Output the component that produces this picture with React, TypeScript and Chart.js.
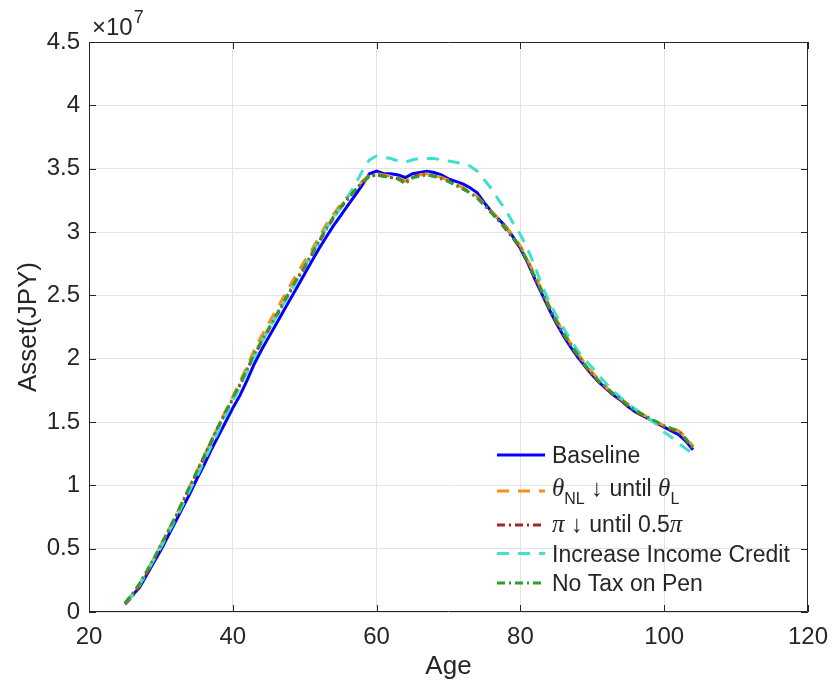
import React, { useEffect, useRef } from 'react';
import { Chart, registerables } from 'chart.js';

Chart.register(...registerables);

// ---------------- data (values in units of 1e7 JPY) ----------------
const ages = [
  25, 26, 27, 28, 29, 30, 31, 32, 33, 34, 35, 36, 37, 38, 39, 40, 41, 42, 43, 44,
  45, 46, 47, 48, 49, 50, 51, 52, 53, 54, 55, 56, 57, 58, 59, 60, 61, 62, 63, 64,
  65, 66, 67, 68, 69, 70, 71, 72, 73, 74, 75, 76, 77, 78, 79, 80, 81, 82, 83, 84,
  85, 86, 87, 88, 89, 90, 91, 92, 93, 94, 95, 96, 97, 98, 99, 100, 101, 102, 103, 104,
];

const baseline = [
  0.07, 0.13, 0.19, 0.29, 0.39, 0.49, 0.60, 0.71, 0.82, 0.93, 1.05, 1.16, 1.28, 1.39, 1.50, 1.61, 1.71, 1.83, 1.96, 2.07,
  2.17, 2.27, 2.37, 2.47, 2.57, 2.67, 2.77, 2.87, 2.96, 3.05, 3.13, 3.21, 3.29, 3.37, 3.46, 3.48, 3.46, 3.46, 3.45, 3.43,
  3.46, 3.47, 3.48, 3.47, 3.45, 3.42, 3.40, 3.38, 3.35, 3.31, 3.23, 3.16, 3.10, 3.04, 2.96, 2.87, 2.76, 2.63, 2.51, 2.39,
  2.28, 2.18, 2.09, 2.01, 1.94, 1.87, 1.81, 1.76, 1.71, 1.67, 1.62, 1.58, 1.55, 1.52, 1.49, 1.46, 1.43, 1.40, 1.35, 1.28,
];

const thetaDown = [
  0.07, 0.14, 0.22, 0.32, 0.42, 0.53, 0.64, 0.75, 0.87, 0.99, 1.11, 1.23, 1.35, 1.47, 1.59, 1.70, 1.82, 1.94, 2.07, 2.18,
  2.28, 2.38, 2.48, 2.58, 2.68, 2.77, 2.86, 2.96, 3.06, 3.14, 3.22, 3.28, 3.34, 3.40, 3.45, 3.46, 3.45, 3.44, 3.43, 3.40,
  3.44, 3.45, 3.46, 3.45, 3.43, 3.41, 3.38, 3.35, 3.32, 3.28, 3.22, 3.16, 3.10, 3.04, 2.97, 2.89, 2.78, 2.66, 2.54, 2.42,
  2.31, 2.21, 2.12, 2.04, 1.96, 1.89, 1.83, 1.77, 1.72, 1.68, 1.64, 1.60, 1.56, 1.53, 1.50, 1.47, 1.45, 1.43, 1.38, 1.31,
];

const piDown = [
  0.06, 0.12, 0.20, 0.30, 0.41, 0.52, 0.63, 0.74, 0.86, 0.98, 1.10, 1.22, 1.34, 1.46, 1.57, 1.68, 1.79, 1.91, 2.03, 2.13,
  2.23, 2.33, 2.43, 2.53, 2.63, 2.72, 2.82, 2.92, 3.02, 3.11, 3.19, 3.26, 3.33, 3.39, 3.44, 3.45, 3.44, 3.43, 3.42, 3.39,
  3.43, 3.45, 3.45, 3.44, 3.42, 3.40, 3.37, 3.34, 3.31, 3.27, 3.21, 3.15, 3.09, 3.02, 2.95, 2.87, 2.76, 2.64, 2.52, 2.40,
  2.29, 2.19, 2.10, 2.02, 1.94, 1.87, 1.81, 1.76, 1.71, 1.67, 1.62, 1.58, 1.55, 1.52, 1.49, 1.46, 1.44, 1.42, 1.36, 1.29,
];

const incomeCredit = [
  0.07, 0.13, 0.21, 0.31, 0.41, 0.51, 0.62, 0.73, 0.84, 0.96, 1.07, 1.19, 1.31, 1.43, 1.55, 1.66, 1.78, 1.90, 2.02, 2.13,
  2.23, 2.33, 2.43, 2.53, 2.63, 2.73, 2.83, 2.93, 3.03, 3.11, 3.19, 3.28, 3.37, 3.48, 3.57, 3.60, 3.59, 3.58, 3.56, 3.55,
  3.57, 3.58, 3.58, 3.58, 3.57, 3.56, 3.55, 3.54, 3.52, 3.48, 3.41, 3.34, 3.25, 3.17, 3.07, 2.98, 2.87, 2.73, 2.58, 2.45,
  2.34, 2.24, 2.15, 2.06, 1.99, 1.93, 1.86, 1.80, 1.74, 1.69, 1.64, 1.60, 1.56, 1.52, 1.48, 1.42, 1.38, 1.33, 1.29, 1.25,
];

const noTaxPen = [
  0.07, 0.14, 0.22, 0.32, 0.42, 0.53, 0.64, 0.75, 0.87, 0.99, 1.11, 1.23, 1.35, 1.47, 1.58, 1.69, 1.80, 1.92, 2.04, 2.14,
  2.24, 2.34, 2.44, 2.54, 2.64, 2.73, 2.83, 2.93, 3.03, 3.12, 3.20, 3.27, 3.33, 3.39, 3.44, 3.45, 3.44, 3.43, 3.42, 3.38,
  3.43, 3.44, 3.45, 3.44, 3.42, 3.40, 3.37, 3.34, 3.31, 3.27, 3.21, 3.15, 3.09, 3.03, 2.96, 2.88, 2.77, 2.65, 2.53, 2.41,
  2.30, 2.20, 2.11, 2.03, 1.95, 1.88, 1.82, 1.77, 1.72, 1.68, 1.63, 1.59, 1.56, 1.53, 1.50, 1.47, 1.45, 1.43, 1.37, 1.30,
];

const xTickValues = [20, 40, 60, 80, 100, 120];
const xTickLabels = ['20', '40', '60', '80', '100', '120'];
const yTickValues = [0, 0.5, 1, 1.5, 2, 2.5, 3, 3.5, 4, 4.5];
const yTickLabels = ['0', '0.5', '1', '1.5', '2', '2.5', '3', '3.5', '4', '4.5'];

const xTitle = 'Age';
const yTitle = 'Asset(JPY)';
const exponentBase = '\u00D710';
const exponentPower = '7';

// ---------------- styles ----------------
const SANS = '"Liberation Sans", Arial, Helvetica, sans-serif';
const SERIF = '"Liberation Serif", "DejaVu Serif", serif';
const TEXT = '#262626';
const GRID = '#E3E3E3';

const COLORS = {
  baseline: '#0000FF',
  theta: '#FF8A1E',
  pi: '#B22222',
  credit: '#40E0D0',
  notax: '#2CA02C',
};

const DASH_LONG = [12, 9];
const DASH_DOT = [8, 4, 2, 4];

type Run = { t: string; f: string; dy?: number };

const legendRows: { color: string; dash: number[]; runs: Run[] }[] = [
  { color: COLORS.baseline, dash: [], runs: [{ t: 'Baseline', f: `23px ${SANS}` }] },
  {
    color: COLORS.theta,
    dash: DASH_LONG,
    runs: [
      { t: '\u03B8', f: `italic 25px ${SERIF}` },
      { t: 'NL', f: `16px ${SANS}`, dy: 8 },
      { t: ' ', f: `23px ${SANS}` },
      { t: '\u2193', f: `24px ${SERIF}` },
      { t: ' until ', f: `23px ${SANS}` },
      { t: '\u03B8', f: `italic 25px ${SERIF}` },
      { t: 'L', f: `16px ${SANS}`, dy: 8 },
    ],
  },
  {
    color: COLORS.pi,
    dash: DASH_DOT,
    runs: [
      { t: '\u03C0', f: `italic 25px ${SERIF}` },
      { t: ' ', f: `23px ${SANS}` },
      { t: '\u2193', f: `24px ${SERIF}` },
      { t: ' until 0.5', f: `23px ${SANS}` },
      { t: '\u03C0', f: `italic 25px ${SERIF}` },
    ],
  },
  { color: COLORS.credit, dash: DASH_LONG, runs: [{ t: 'Increase Income Credit', f: `23px ${SANS}` }] },
  { color: COLORS.notax, dash: DASH_DOT, runs: [{ t: 'No Tax on Pen', f: `23px ${SANS}` }] },
];

const legendLineY = [455, 491, 525, 553.5, 583];
const legendBaseY = [463, 495.5, 532, 561.5, 591];

const decorPlugin = {
  id: 'matlabDecor',
  afterDraw(chart: any) {
    const { ctx, chartArea, scales } = chart;
    const { left, right, top, bottom } = chartArea;
    const xs = scales.x;
    const ys = scales.y;
    ctx.save();

    // box
    ctx.strokeStyle = TEXT;
    ctx.lineWidth = 1;
    ctx.beginPath();
    ctx.rect(Math.round(left) + 0.5, Math.round(top) + 0.5, Math.round(right) - Math.round(left) - 1, Math.round(bottom) - Math.round(top) - 1);
    ctx.stroke();

    // inward ticks
    const tl = 7;
    ctx.beginPath();
    xTickValues.forEach((v) => {
      const px = Math.round(xs.getPixelForValue(v)) + 0.5;
      ctx.moveTo(px, bottom);
      ctx.lineTo(px, bottom - tl);
      ctx.moveTo(px, top);
      ctx.lineTo(px, top + tl);
    });
    yTickValues.forEach((v) => {
      const py = Math.round(ys.getPixelForValue(v)) + 0.5;
      ctx.moveTo(left, py);
      ctx.lineTo(left + tl, py);
      ctx.moveTo(right, py);
      ctx.lineTo(right - tl, py);
    });
    ctx.stroke();

    // exponent label
    ctx.fillStyle = TEXT;
    ctx.textBaseline = 'alphabetic';
    ctx.textAlign = 'left';
    ctx.font = `24px ${SANS}`;
    ctx.fillText(exponentBase, 92, 35);
    const w = ctx.measureText(exponentBase).width;
    ctx.font = `18px ${SANS}`;
    ctx.fillText(exponentPower, 92 + w + 1, 23);

    // axis titles
    ctx.font = `26px ${SANS}`;
    ctx.textAlign = 'center';
    ctx.textBaseline = 'middle';
    ctx.fillText(xTitle, (left + right) / 2, 667);
    ctx.save();
    ctx.translate(29, (top + bottom) / 2);
    ctx.rotate(-Math.PI / 2);
    ctx.fillText(yTitle, 0, 0);
    ctx.restore();

    // legend
    ctx.textAlign = 'left';
    ctx.textBaseline = 'alphabetic';
    legendRows.forEach((row, i) => {
      const ly = legendLineY[i];
      ctx.save();
      ctx.strokeStyle = row.color;
      ctx.lineWidth = 3;
      ctx.setLineDash(row.dash);
      ctx.beginPath();
      ctx.moveTo(497, ly);
      ctx.lineTo(545, ly);
      ctx.stroke();
      ctx.restore();
      let x = 552;
      row.runs.forEach((r) => {
        ctx.font = r.f;
        ctx.fillStyle = TEXT;
        ctx.fillText(r.t, x, legendBaseY[i] + (r.dy || 0));
        x += ctx.measureText(r.t).width;
      });
    });

    ctx.restore();
  },
};

function mk(label: string, data: number[], color: string, dash: number[], order: number) {
  return {
    label,
    data: ages.map((a, i) => ({ x: a, y: data[i] })),
    borderColor: color,
    backgroundColor: color,
    borderWidth: 3,
    borderDash: dash,
    pointRadius: 0,
    tension: 0,
    fill: false,
    order,
  };
}

export default function App() {
  const ref = useRef<HTMLCanvasElement | null>(null);
  useEffect(() => {
    if (!ref.current) return;
    const chart = new Chart(ref.current, {
      type: 'line',
      data: {
        datasets: [
          mk('Baseline', baseline, COLORS.baseline, [], 5),
          mk('theta', thetaDown, COLORS.theta, DASH_LONG, 4),
          mk('pi', piDown, COLORS.pi, DASH_DOT, 3),
          mk('Increase Income Credit', incomeCredit, COLORS.credit, DASH_LONG, 2),
          mk('No Tax on Pen', noTaxPen, COLORS.notax, DASH_DOT, 1),
        ],
      },
      options: {
        animation: false,
        responsive: false,
        devicePixelRatio: 1,
        layout: { padding: { top: 42, right: 25, left: 0, bottom: 0 } },
        plugins: { legend: { display: false }, tooltip: { enabled: false } },
        scales: {
          x: {
            type: 'linear',
            min: 20,
            max: 120,
            afterBuildTicks: (s: any) => {
              s.ticks = xTickValues.map((v) => ({ value: v }));
            },
            afterFit: (s: any) => {
              s.height = 82;
            },
            ticks: {
              autoSkip: false,
              maxRotation: 0,
              padding: 11,
              color: TEXT,
              font: { family: SANS, size: 24 },
              callback: (_v: any, i: number) => xTickLabels[i],
            },
            grid: { color: GRID, lineWidth: 1, drawTicks: false },
            border: { display: false },
          },
          y: {
            type: 'linear',
            min: 0,
            max: 4.5,
            afterBuildTicks: (s: any) => {
              s.ticks = yTickValues.map((v) => ({ value: v }));
            },
            afterFit: (s: any) => {
              s.width = 89;
            },
            ticks: {
              autoSkip: false,
              padding: 9,
              color: TEXT,
              font: { family: SANS, size: 24 },
              callback: (_v: any, i: number) => yTickLabels[i],
            },
            grid: { color: GRID, lineWidth: 1, drawTicks: false },
            border: { display: false },
          },
        },
      },
      plugins: [decorPlugin],
    });
    return () => chart.destroy();
  }, []);
  return (
    <div style={{ position: 'absolute', left: 0, top: 0, width: 839, height: 694, background: '#fff' }}>
      <canvas ref={ref} width={839} height={694} />
    </div>
  );
}
